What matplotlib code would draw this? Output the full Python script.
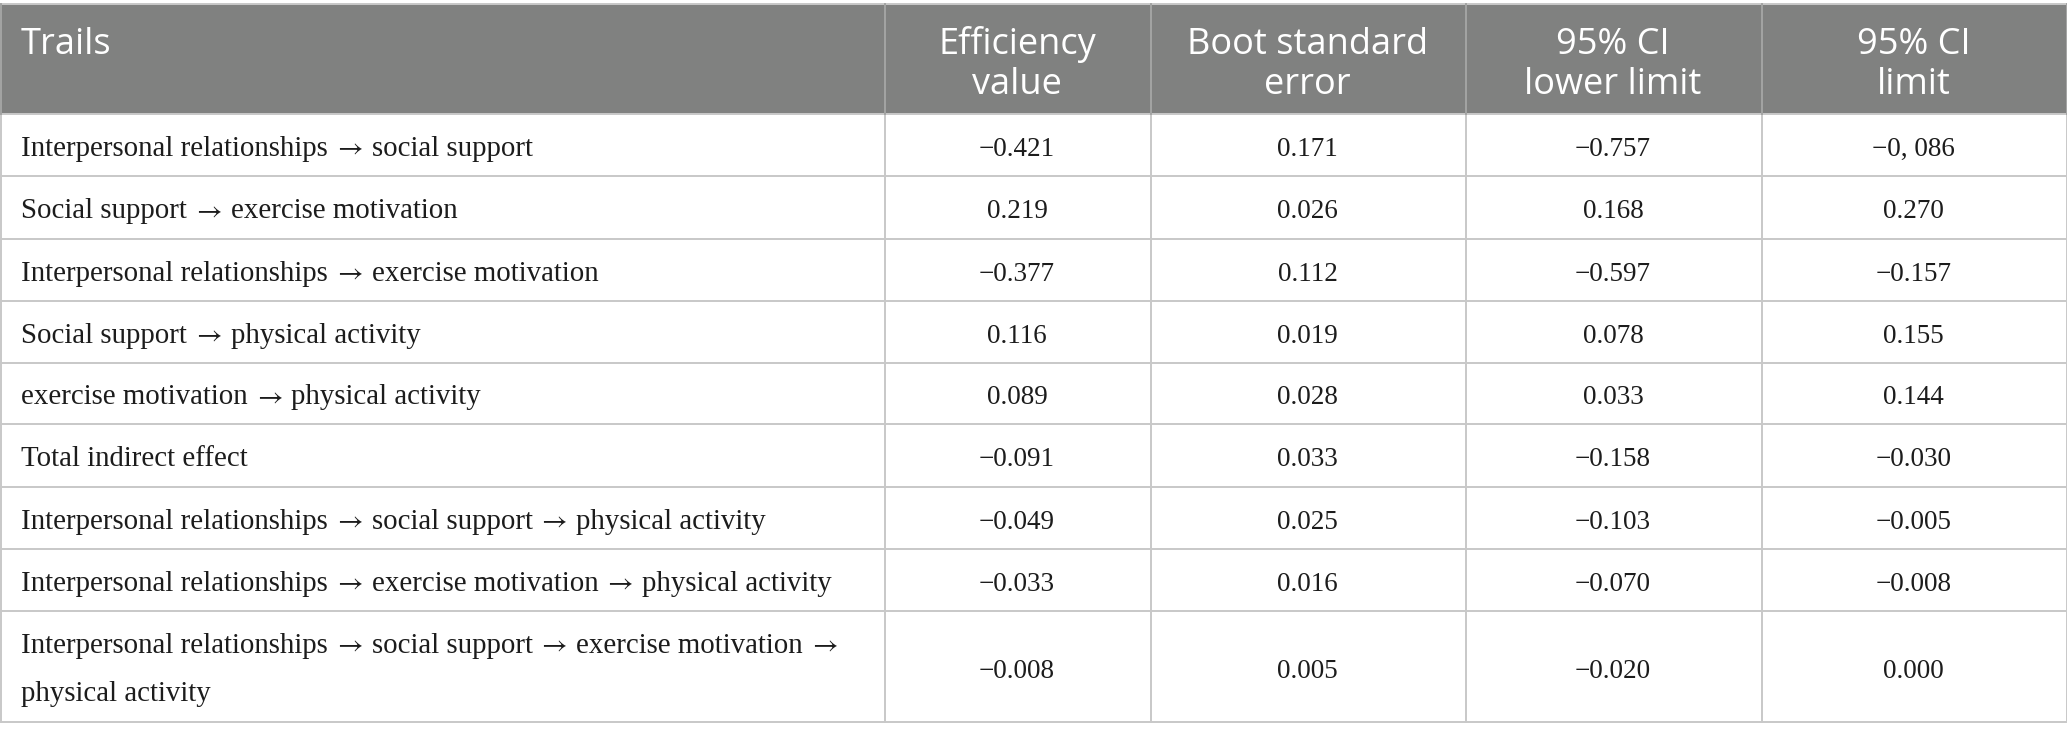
import matplotlib
matplotlib.use("Agg")
import matplotlib.pyplot as plt
from matplotlib.patches import Rectangle

# ---- data ----
headers = ["Trails", "Efficiency\nvalue", "Boot standard\nerror", "95% CI\nlower limit", "95% CI\nlimit"]
trails = [
    "Interpersonal relationships \u2192 social support",
    "Social support \u2192 exercise motivation",
    "Interpersonal relationships \u2192 exercise motivation",
    "Social support \u2192 physical activity",
    "exercise motivation \u2192 physical activity",
    "Total indirect effect",
    "Interpersonal relationships \u2192 social support \u2192 physical activity",
    "Interpersonal relationships \u2192 exercise motivation \u2192 physical activity",
    "Interpersonal relationships \u2192 social support \u2192 exercise motivation \u2192\nphysical activity",
]
efficiency = ["\u22120.421", "0.219", "\u22120.377", "0.116", "0.089", "\u22120.091", "\u22120.049", "\u22120.033", "\u22120.008"]
boot_se = ["0.171", "0.026", "0.112", "0.019", "0.028", "0.033", "0.025", "0.016", "0.005"]
ci_lower = ["\u22120.757", "0.168", "\u22120.597", "0.078", "0.033", "\u22120.158", "\u22120.103", "\u22120.070", "\u22120.020"]
ci_upper = ["\u22120, 086", "0.270", "\u22120.157", "0.155", "0.144", "\u22120.030", "\u22120.005", "\u22120.008", "0.000"]

# ---- layout (pixels) ----
W, H = 2067, 741
col_edges = [0, 884, 1150, 1465, 1761, 2066]
top = 4
header_h = 110
row_heights = [62, 63, 62, 62, 61, 63, 62, 62, 111]

header_bg = "#808180"
grid_col = "#c8c8c8"
hdr_sep = "#a3a4a3"
text_col = "#1c1c1c"

serif = ["Liberation Serif", "DejaVu Serif"]
sans = ["Open Sans", "DejaVu Sans"]
arrow_family = ["STIXGeneral", "DejaVu Serif"]

fig = plt.figure(figsize=(W / 100, H / 100), dpi=100)
ax = fig.add_axes([0, 0, 1, 1])
ax.set_xlim(0, W)
ax.set_ylim(H, 0)
ax.axis("off")
renderer = fig.canvas.get_renderer()

body_fs = 20.8
num_fs = 19.5
arrow_fs = 20
arrow_gap = 9


def draw_trail_line(x, y, s):
    """Draw a line of text, rendering each arrow with a long thin glyph."""
    parts = s.split("\u2192")
    for j, p in enumerate(parts):
        p = p.strip()
        if p:
            t = ax.text(x, y, p, ha="left", va="baseline", color=text_col,
                        fontsize=body_fs, family=serif, zorder=3)
            x += t.get_window_extent(renderer).width
        if j < len(parts) - 1:
            x += arrow_gap
            a = ax.text(x, y, "\u2192", ha="left", va="baseline", color=text_col,
                        fontsize=arrow_fs, family=arrow_family, zorder=3)
            x += a.get_window_extent(renderer).width + arrow_gap


# header background
ax.add_patch(Rectangle((col_edges[0], top), col_edges[-1] - col_edges[0], header_h,
                       facecolor=header_bg, edgecolor="none", zorder=1))

# header text
hdr_fs = 26
hdr_y1 = top + 50
for i, h in enumerate(headers):
    lines = h.split("\n")
    for k, ln in enumerate(lines):
        y = hdr_y1 + k * 40
        if i == 0:
            ax.text(col_edges[0] + 21, y, ln, ha="left", va="baseline", color="white",
                    fontsize=hdr_fs, family=sans, zorder=3)
        else:
            cx = (col_edges[i] + col_edges[i + 1]) / 2
            ax.text(cx, y, ln, ha="center", va="baseline", color="white",
                    fontsize=hdr_fs, family=sans, zorder=3)

# rows
y0 = top + header_h
row_tops = []
for rh in row_heights:
    row_tops.append(y0)
    y0 += rh
bottom = y0

cols = [efficiency, boot_se, ci_lower, ci_upper]
for r, (rt, rh) in enumerate(zip(row_tops, row_heights)):
    lines = trails[r].split("\n")
    if len(lines) == 1:
        draw_trail_line(col_edges[0] + 21, rt + rh / 2 + 11, lines[0])
    else:
        for k, ln in enumerate(lines):
            draw_trail_line(col_edges[0] + 21, rt + 42 + k * 48, ln)
    for c, vals in enumerate(cols):
        cx = (col_edges[c + 1] + col_edges[c + 2]) / 2
        ax.text(cx, rt + rh / 2 + 11, vals[r], ha="center", va="baseline",
                color=text_col, fontsize=num_fs, family=serif, zorder=3)

# grid lines
lw = 1.4
for rt in row_tops[1:] + [bottom]:
    ax.plot([col_edges[0], col_edges[-1]], [rt, rt], color=grid_col, lw=lw, zorder=2,
            solid_capstyle="butt")
ax.plot([col_edges[0], col_edges[-1]], [row_tops[0], row_tops[0]], color=grid_col, lw=lw, zorder=2)
ax.plot([col_edges[0], col_edges[-1]], [top, top], color=grid_col, lw=lw, zorder=2)
for i, xe in enumerate(col_edges):
    ax.plot([xe + 0.5, xe + 0.5], [row_tops[0], bottom], color=grid_col, lw=lw, zorder=2)
    ax.plot([xe + 0.5, xe + 0.5], [top, row_tops[0]], color=hdr_sep, lw=lw, zorder=2)

fig.savefig("out.png", dpi=100, facecolor="white")
